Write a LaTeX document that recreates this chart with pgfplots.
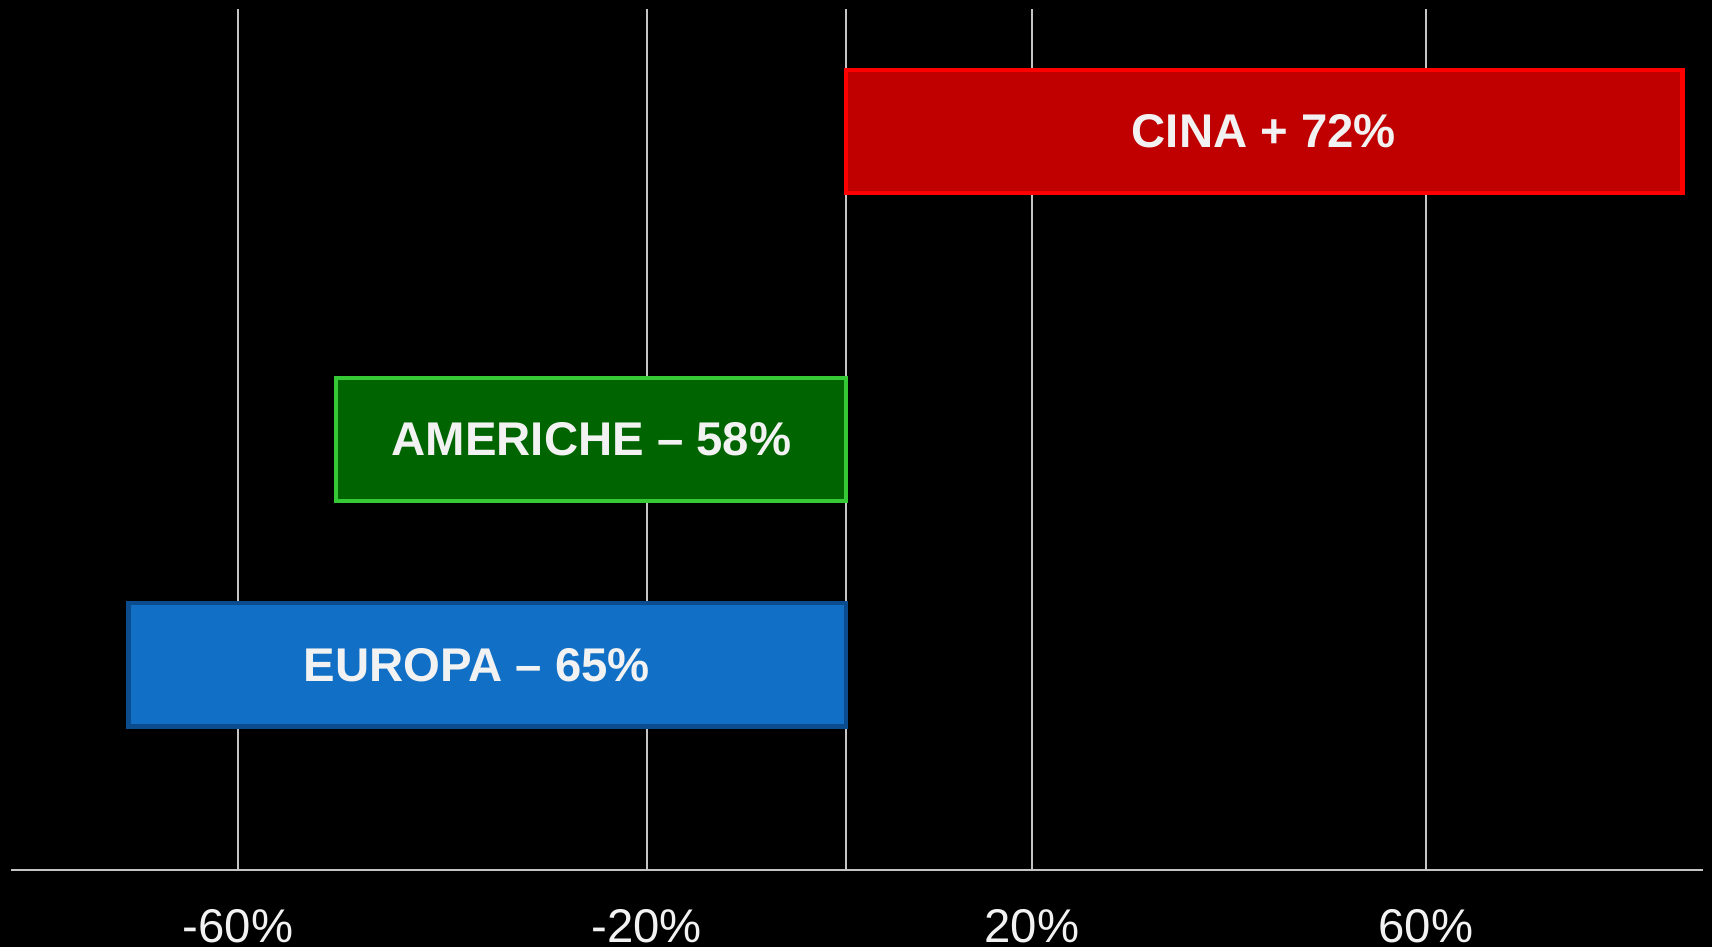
\documentclass[border=0pt]{standalone}
\usepackage{fontspec}
\setmainfont{Liberation Sans}
\usepackage{pgfplots}
\pgfplotsset{compat=1.18}

\definecolor{cinafill}{HTML}{C00000}
\definecolor{cinaline}{HTML}{FF0000}
\definecolor{amefill}{HTML}{006400}
\definecolor{ameline}{HTML}{36C936}
\definecolor{eurfill}{HTML}{1170C6}
\definecolor{eurline}{HTML}{0B4C8F}
\definecolor{gridgray}{HTML}{C4C4C4}
\definecolor{txt}{HTML}{F2F2F2}

\begin{document}
\begin{tikzpicture}
\fill[black] (-3pt,-21pt) rectangle (467.4pt,239.1pt);
\begin{axis}[
    at={(0,0)}, anchor=south west,
    scale only axis,
    width=465pt, height=236.7pt,
    xmin=-84.6, xmax=86.8,
    ymin=0, ymax=789,
    axis x line*=bottom,
    axis y line=none,
    axis line style={draw=gridgray, line width=0.7pt},
    xtick={-61.6,-20.2,0,18.8,58.7},
    xticklabels={-60\%,-20\%,,20\%,60\%},
    ytick=\empty,
    major tick length=0pt,
    xmajorgrids,
    grid style={draw=gridgray, line width=0.45pt},
    xticklabel style={anchor=base, yshift=-20pt, text=txt, font=\fontsize{13}{15}\selectfont},
    /pgf/number format/assume math mode=true,
    clip=false,
]
\addplot[xbar, bar width=113, bar shift=0pt, fill=cinafill, draw=cinaline, line width=1.2pt]
    coordinates {(84.7,676.5)};
\addplot[xbar, bar width=113, bar shift=0pt, fill=amefill, draw=ameline, line width=1.2pt]
    coordinates {(-51.7,394.5)};
\addplot[xbar, bar width=113, bar shift=0pt, fill=eurfill, draw=eurline, line width=1.2pt]
    coordinates {(-72.7,188)};

\node[text=txt, font=\bfseries\fontsize{13}{15}\selectfont] at (axis cs:42.3,676.5) {CINA + 72\%};
\node[text=txt, font=\bfseries\fontsize{13}{15}\selectfont] at (axis cs:-25.8,394.5) {AMERICHE – 58\%};
\node[text=txt, font=\bfseries\fontsize{13}{15}\selectfont] at (axis cs:-37.4,188) {EUROPA – 65\%};
\end{axis}
\pgfresetboundingbox
\useasboundingbox (-3pt,-21pt) rectangle (467.4pt,239.1pt);
\end{tikzpicture}
\end{document}
